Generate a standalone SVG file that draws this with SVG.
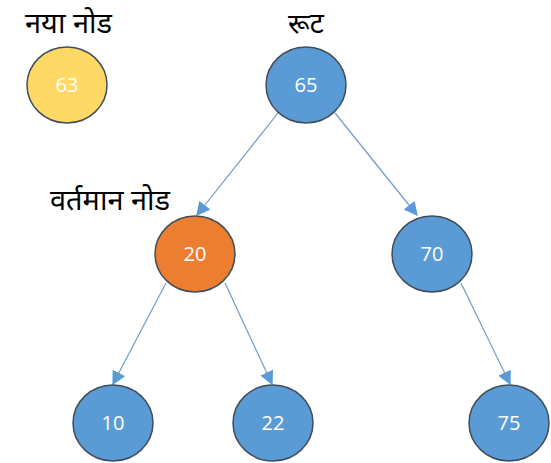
<svg xmlns="http://www.w3.org/2000/svg" width="551" height="463" viewBox="0 0 551 463">
<style>
.node{stroke:#404E5C;stroke-width:1.5}
.blue{fill:#5B9BD5}
.orange{fill:#ED7D31}
.yellow{fill:#FFD966}
.num{font-family:"Open Sans","Liberation Sans",sans-serif;font-size:20px;fill:#ffffff;text-anchor:middle}
.lbl{font-family:"Noto Sans","Noto Sans Devanagari","Liberation Sans",sans-serif;font-size:28px;fill:#000000}
.edge{stroke:#6E9CC8;stroke-width:1.2;fill:none;marker-end:url(#arr)}
</style>
<defs>
<marker id="arr" viewBox="0 0 10 10" refX="9" refY="5" markerWidth="14" markerHeight="14" markerUnits="userSpaceOnUse" orient="auto">
<path d="M0,0 L10,5 L0,10 z" fill="#5B9BD5"/>
</marker>
</defs>
<rect width="551" height="463" fill="#ffffff"/>
<g id="labels">
<text class="lbl" x="25" y="33" textLength="87" lengthAdjust="spacingAndGlyphs">नया नोड</text>
<text class="lbl" x="306" y="33" text-anchor="middle">रूट</text>
<text class="lbl" x="50" y="210" textLength="120" lengthAdjust="spacingAndGlyphs">वर्तमान नोड</text>
</g>
<g id="connectors">
<line class="edge" x1="278" y1="113" x2="197" y2="215"/>
<line class="edge" x1="335" y1="113" x2="417" y2="215"/>
<line class="edge" x1="166" y1="283" x2="113" y2="384"/>
<line class="edge" x1="225" y1="283" x2="272" y2="384"/>
<line class="edge" x1="461" y1="283" x2="510" y2="384"/>
</g>
<g id="n63"><ellipse class="node yellow" cx="67" cy="85" rx="40" ry="38"/><text class="num" x="67" y="92">63</text></g>
<g id="n65"><ellipse class="node blue" cx="306" cy="85" rx="40" ry="38"/><text class="num" x="306" y="92">65</text></g>
<g id="n20"><ellipse class="node orange" cx="195" cy="254" rx="40" ry="38"/><text class="num" x="195" y="261">20</text></g>
<g id="n70"><ellipse class="node blue" cx="432" cy="254" rx="40" ry="38"/><text class="num" x="432" y="261">70</text></g>
<g id="n10"><ellipse class="node blue" cx="113" cy="423" rx="40" ry="38"/><text class="num" x="113" y="430">10</text></g>
<g id="n22"><ellipse class="node blue" cx="273" cy="423" rx="40" ry="38"/><text class="num" x="273" y="430">22</text></g>
<g id="n75"><ellipse class="node blue" cx="509" cy="423" rx="40" ry="38"/><text class="num" x="509" y="430">75</text></g>
</svg>
